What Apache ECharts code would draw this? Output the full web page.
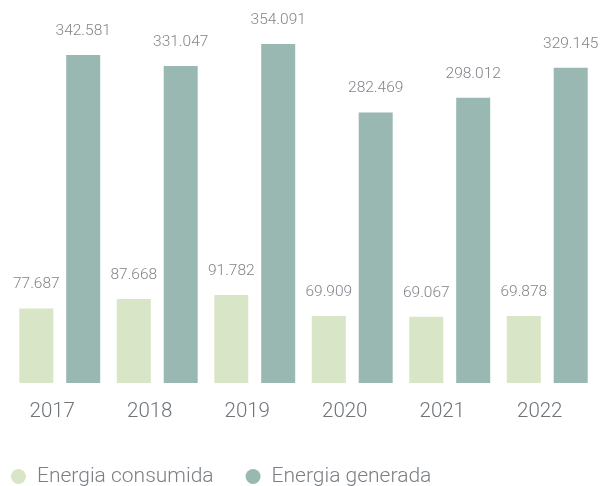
<!DOCTYPE html>
<html>
<head>
<meta charset="utf-8">
<script src="https://cdn.jsdelivr.net/npm/echarts@6/dist/echarts.min.js"></script>
<style>
html,body{margin:0;padding:0;background:#fff;}
#c{width:603px;height:486px;}
</style>
</head>
<body>
<div id="c"></div>
<script>
const years = ['2017', '2018', '2019', '2020', '2021', '2022'];
const consumida = [77687, 87668, 91782, 69909, 69067, 69878];
const generada = [342581, 331047, 354091, 282469, 298012, 329145];
const seriesNames = ['Energia consumida', 'Energia generada'];

function fmt(v) {
  return String(v).replace(/\B(?=(\d{3})+(?!\d))/g, '.');
}

const FONT = 'Roboto';
const chart = echarts.init(document.getElementById('c'), null, { renderer: 'canvas' });
const labelCfg = {
  show: true,
  position: 'top',
  distance: 16,
  color: '#80858a',
  fontFamily: FONT,
  fontWeight: 300,
  fontSize: 15.5,
  formatter: p => fmt(p.value)
};
chart.setOption({
  animation: false,
  color: ['#d8e5c6', '#99b8b1'],
  grid: { left: 11, right: 7, top: 0, bottom: 103, containLabel: false },
  legend: {
    data: seriesNames,
    left: 11,
    top: 466,
    padding: 0,
    icon: 'circle',
    itemWidth: 15,
    itemHeight: 15,
    itemGap: 32,
    textStyle: {
      color: '#7a7f84',
      fontFamily: FONT,
      fontWeight: 300,
      fontSize: 21,
      padding: [0, 0, 0, 6]
    }
  },
  xAxis: {
    type: 'category',
    data: years,
    axisLine: { show: false },
    axisTick: { show: false },
    axisLabel: {
      color: '#6f7479',
      fontFamily: FONT,
      fontWeight: 300,
      fontSize: 20.5,
      margin: 18,
      padding: [0, 15, 0, 0]
    }
  },
  yAxis: {
    type: 'value',
    min: 0,
    max: 400000,
    show: false,
    splitLine: { show: false }
  },
  series: [
    {
      name: seriesNames[0],
      type: 'bar',
      data: consumida,
      barWidth: 34,
      barGap: '38%',
      label: labelCfg
    },
    {
      name: seriesNames[1],
      type: 'bar',
      data: generada,
      barWidth: 34,
      barGap: '38%',
      label: labelCfg
    }
  ]
});
</script>
</body>
</html>
